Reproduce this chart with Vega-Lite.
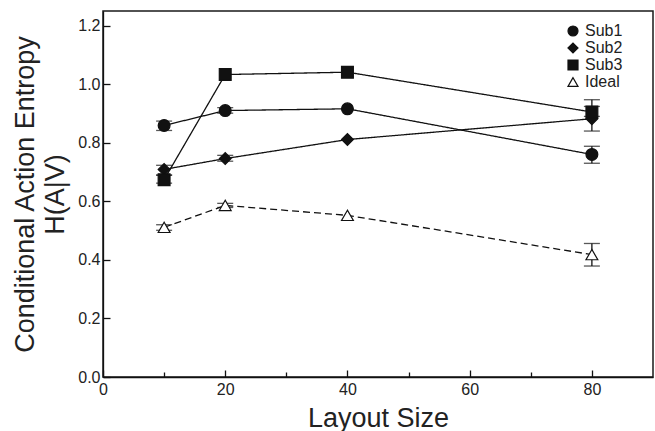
{
  "$schema": "https://vega.github.io/schema/vega-lite/v6.json",
  "width": 550,
  "height": 366,
  "autosize": "none",
  "padding": {"left": 103, "top": 11, "right": 2, "bottom": 54},
  "background": "white",
  "config": {
    "font": "Liberation Sans",
    "view": {"stroke": "#1a1a1a", "strokeWidth": 1.5},
    "legend": {
      "labelFont": "Liberation Sans",
      "labelColor": "#222",
      "rowPadding": 1,
      "padding": 0,
      "symbolSize": 100
    },
    "axis": {
      "grid": false,
      "domainColor": "#111",
      "domainWidth": 1.3,
      "tickColor": "#111",
      "tickWidth": 1.3,
      "labelColor": "#222",
      "labelFont": "Liberation Sans",
      "labelFontSize": 16,
      "labelFlush": false,
      "labelOverlap": false,
      "titleFont": "Liberation Sans",
      "titleFontSize": 27,
      "titleFontWeight": "normal",
      "titleColor": "#222"
    }
  },
  "data": {
    "values": [
      {"series": "Sub1", "x": 10, "y": 0.859, "lo": 0.842, "hi": 0.874},
      {"series": "Sub1", "x": 20, "y": 0.91, "lo": 0.901, "hi": 0.92},
      {"series": "Sub1", "x": 40, "y": 0.916, "lo": null, "hi": null},
      {"series": "Sub1", "x": 80, "y": 0.76, "lo": 0.73, "hi": 0.788},
      {"series": "Sub2", "x": 10, "y": 0.709, "lo": 0.689, "hi": 0.723},
      {"series": "Sub2", "x": 20, "y": 0.746, "lo": 0.737, "hi": 0.757},
      {"series": "Sub2", "x": 40, "y": 0.811, "lo": null, "hi": null},
      {"series": "Sub2", "x": 80, "y": 0.882, "lo": 0.84, "hi": 0.947},
      {"series": "Sub3", "x": 10, "y": 0.674, "lo": 0.662, "hi": 0.69},
      {"series": "Sub3", "x": 20, "y": 1.033, "lo": null, "hi": null},
      {"series": "Sub3", "x": 40, "y": 1.041, "lo": null, "hi": null},
      {"series": "Sub3", "x": 80, "y": 0.905, "lo": 0.89, "hi": 0.924},
      {"series": "Ideal", "x": 10, "y": 0.511, "lo": 0.501, "hi": 0.52},
      {"series": "Ideal", "x": 20, "y": 0.586, "lo": 0.579, "hi": 0.593},
      {"series": "Ideal", "x": 40, "y": 0.552, "lo": null, "hi": null},
      {"series": "Ideal", "x": 80, "y": 0.418, "lo": 0.379, "hi": 0.456}
    ]
  },
  "layer": [
    {
      "mark": {"type": "line", "color": "#111", "strokeWidth": 1.3},
      "encoding": {
        "x": {
          "field": "x", "type": "quantitative",
          "scale": {"domain": [0, 90], "nice": false, "zero": false},
          "axis": {
            "title": "Layout Size",
            "values": [0, 10, 20, 30, 40, 50, 60, 70, 80],
            "labelExpr": "datum.value % 20 === 0 ? datum.label : ''",
            "tickSize": {"condition": {"test": "datum.value % 20 === 0", "value": -7}, "value": -5},
            "labelPadding": 11,
            "titlePadding": 6
          }
        },
        "y": {
          "field": "y", "type": "quantitative",
          "scale": {"domain": [0, 1.25], "nice": false, "zero": false},
          "axis": {
            "title": ["Conditional Action Entropy", "H(A|V)"],
            "titleLineHeight": 30,
            "values": [0, 0.1, 0.2, 0.3, 0.4, 0.5, 0.6, 0.7, 0.8, 0.9, 1.0, 1.1, 1.2],
            "labelExpr": "round(datum.value*10) % 2 === 0 ? format(datum.value, '.1f') : ''",
            "tickSize": {"condition": {"test": "round(datum.value*10) % 2 === 0", "value": -7}, "value": -5},
            "labelPadding": 10,
            "titlePadding": 8
          }
        },
        "detail": {"field": "series"},
        "strokeDash": {
          "field": "series", "type": "nominal",
          "scale": {"domain": ["Ideal", "Sub1", "Sub2", "Sub3"], "range": [[7, 4], [1, 0], [1, 0], [1, 0]]},
          "legend": null
        }
      }
    },
    {
      "transform": [{"filter": "isValid(datum.lo)"}],
      "mark": {"type": "errorbar", "ticks": {"size": 16, "thickness": 1.3, "color": "#111"}, "rule": {"strokeWidth": 1.3}, "color": "#111"},
      "encoding": {
        "x": {"field": "x", "type": "quantitative", "scale": {"domain": [0, 90], "nice": false, "zero": false}},
        "y": {"field": "lo", "type": "quantitative", "scale": {"domain": [0, 1.25], "nice": false, "zero": false}, "title": ["Conditional Action Entropy", "H(A|V)"]},
        "y2": {"field": "hi"}
      }
    },
    {
      "mark": {"type": "point", "filled": true, "opacity": 1, "size": 140, "stroke": "#111", "strokeWidth": 1.2},
      "encoding": {
        "x": {"field": "x", "type": "quantitative", "scale": {"domain": [0, 90], "nice": false, "zero": false}},
        "y": {"field": "y", "type": "quantitative", "scale": {"domain": [0, 1.25], "nice": false, "zero": false}},
        "fill": {"condition": {"test": "datum.series === 'Ideal'", "value": "white"}, "value": "#111"},
        "shape": {
          "field": "series", "type": "nominal",
          "scale": {"domain": ["Sub1", "Sub2", "Sub3", "Ideal"], "range": ["circle", "diamond", "square", "triangle-up"]},
          "legend": {
            "title": null,
            "orient": "none",
            "legendX": 462,
            "legendY": 12,
            "padding": 0,
            "symbolSize": 100,
            "rowPadding": 1,
            "encoding": {
              "symbols": {
                "fill": {"value": {"expr": "datum.value === 'Ideal' ? 'white' : '#111'"}},
                "stroke": {"value": "#111"},
                "strokeWidth": {"value": 1.2},
                "opacity": {"value": 1},
                "fillOpacity": {"value": 1}
              },
              "labels": {
                "fontSize": {"value": 16},
                "fill": {"value": "#222"}
              }
            }
          }
        }
      }
    }
  ]
}
